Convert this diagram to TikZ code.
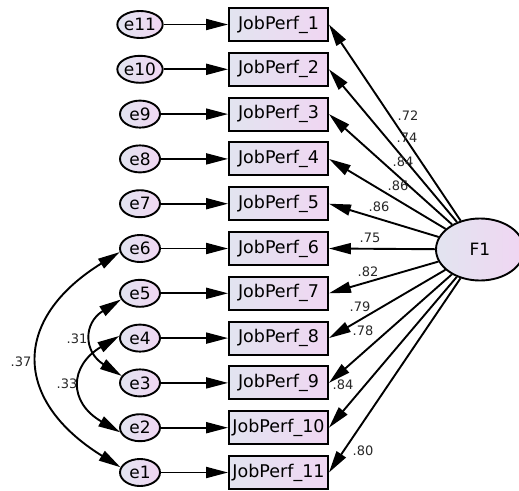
\documentclass[tikz,border=0pt]{standalone}
\usepackage{fontspec}
\setmainfont{DejaVu Sans}
\usetikzlibrary{shapes.geometric,arrows.meta}
\definecolor{cA}{RGB}{226,228,240}
\definecolor{cB}{RGB}{240,214,242}
\definecolor{lab}{RGB}{40,40,40}
\tikzset{
  errnode/.style={ellipse,draw,line width=1.9pt,minimum width=40pt,minimum height=27pt,inner sep=0pt,left color=cA,right color=cB,font=\fontsize{17}{17}\selectfont},
  obsbox/.style={rectangle,draw,line width=1.9pt,minimum width=99pt,minimum height=33pt,inner sep=0pt,left color=cA,right color=cB,font=\fontsize{17.5}{17.5}\selectfont},
  latent/.style={ellipse,draw,line width=1.9pt,minimum width=88pt,minimum height=62pt,inner sep=0pt,left color=cA,right color=cB,font=\fontsize{17}{17}\selectfont},
  pth/.style={line width=1.9pt,-{Triangle[length=22pt,width=11pt]}},
  cov/.style={line width=1.9pt,{Triangle[length=22pt,width=11pt]}-{Triangle[length=22pt,width=11pt]}},
  coef/.style={font=\fontsize{13}{13}\selectfont,text=lab,inner sep=0pt}
}
\begin{document}
\begin{tikzpicture}[x=1pt,y=-1pt]
\clip (0,0) rectangle (519,490);
\fill[white] (0,0) rectangle (519,490);
\foreach \i in {1,...,11}{
  \pgfmathsetmacro{\yy}{24.5+(\i-1)*44.8}
  \pgfmathtruncatemacro{\ee}{12-\i}
  \node[obsbox] (b\i) at (278.5,\yy) {JobPerf\_\i};
  \node[errnode] (e\ee) at (140,\yy) {e\ee};
  \draw[pth] (e\ee) -- (b\i);
}
\node[latent] (F1) at (480,249.5) {F1};
\foreach \i in {1,...,11}{
  \draw[pth] (F1) -- (b\i.east);
}
\node[coef] (l1) at (408,116) {.72};
\node[coef] (l2) at (407,138) {.74};
\node[coef] (l3) at (403,162) {.84};
\node[coef] (l4) at (398,186) {.86};
\node[coef] (l5) at (379,207) {.86};
\node[coef] (l6) at (370,238) {.75};
\node[coef] (l7) at (368,272) {.82};
\node[coef] (l8) at (360,307) {.79};
\node[coef] (l9) at (363,331) {.78};
\node[coef] (l10) at (343,385) {.84};
\node[coef] (l11) at (363,451) {.80};
\draw[cov] (e6.190) .. controls +(-108,67) and +(-108,-67) .. (e1.165);
\draw[cov] (e5.198) .. controls +(-38,24) and +(-38,-24) .. (e3.159);
\draw[cov] (e4.174) .. controls +(-50,30) and +(-52,-30) .. (e2.193);
\node[coef] (c1) at (21,362) {.37};
\node[coef] (c2) at (77,339) {.31};
\node[coef] (c3) at (67,384) {.33};
\end{tikzpicture}
\end{document}
